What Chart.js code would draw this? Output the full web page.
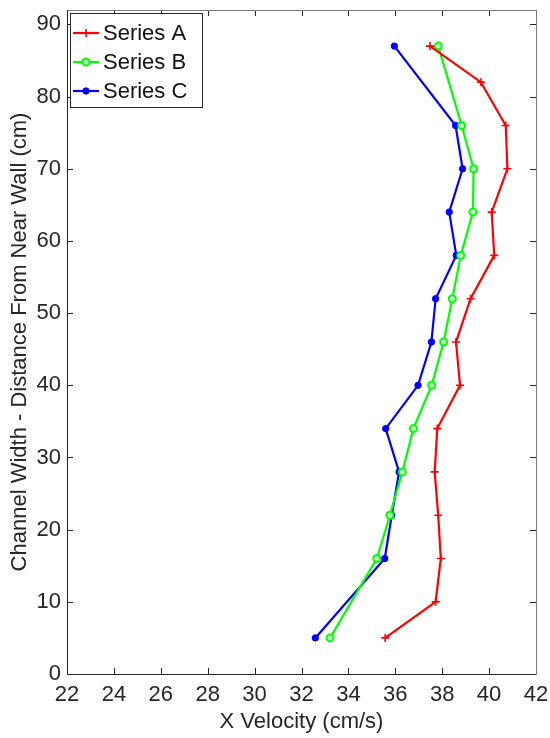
<!DOCTYPE html>
<html>
<head>
<meta charset="utf-8">
<script src="https://cdn.jsdelivr.net/npm/chart.js@4.4.0/dist/chart.umd.min.js"></script>
<style>
html,body{margin:0;padding:0;background:#fff;}
</style>
</head>
<body>
<canvas id="chart" width="550" height="738"></canvas>
<script>
// distancia a la pared (cm)
var yA = [87,82,76,70,64,58,52,46,40,34,28,22,16,10,5];
var yB = [87,76,70,64,58,52,46,40,34,28,22,16,5];
var yC = [87,76,70,64,58,52,46,40,34,28,22,16,5];
// velocidad x (cm/s)
var xA = [37.48,39.65,40.71,40.78,40.11,40.22,39.21,38.59,38.76,37.79,37.68,37.83,37.94,37.72,35.57];
var xB = [37.83,38.83,39.34,39.31,38.79,38.43,38.06,37.55,36.77,36.30,35.77,35.21,33.22];
var xC = [35.96,38.57,38.87,38.30,38.60,37.72,37.54,36.97,35.59,36.16,35.85,35.55,32.59];
var names = ['Series A','Series B','Series C'];
var colors = ['#ff0000','#00ff00','#0000ff'];
var xTicks = [22,24,26,28,30,32,34,36,38,40,42];
var yTicks = [0,10,20,30,40,50,60,70,80,90];

var axisColor = '#262626';
var fontFam = '"Liberation Sans", Arial, Helvetica, sans-serif';

function pts(xs, ys){
  return xs.map(function(v,i){ return {x:v, y:ys[i]}; });
}

var markers = [
  {pointStyle:'cross', radius:4, borderWidth:1.6, backgroundColor:colors[0]},
  {pointStyle:'circle', radius:3.5, borderWidth:2, backgroundColor:'#c8ffc8'},
  {pointStyle:'circle', radius:3.2, borderWidth:1, backgroundColor:colors[2]}
];

var datasets = [pts(xA,yA), pts(xB,yB), pts(xC,yC)].map(function(d,i){
  return {
    label: names[i],
    data: d,
    showLine: true,
    borderColor: colors[i],
    borderWidth: 2.2,
    pointStyle: markers[i].pointStyle,
    pointRadius: markers[i].radius,
    pointBorderWidth: markers[i].borderWidth,
    pointBackgroundColor: markers[i].backgroundColor,
    pointBorderColor: colors[i]
  };
});

function noPad(s){ s.paddingTop = 0; s.paddingBottom = 0; s.paddingLeft = 0; s.paddingRight = 0; }

// caja estilo matlab + ticks hacia dentro + leyenda
var boxPlugin = {
  id: 'box',
  afterDraw: function(chart){
    var ctx = chart.ctx, a = chart.chartArea;
    var sx = chart.scales.x, sy = chart.scales.y;
    var tl = 6;
    ctx.save();
    ctx.strokeStyle = axisColor;
    ctx.lineWidth = 1;
    ctx.beginPath();
    xTicks.forEach(function(v){
      var px = Math.round(sx.getPixelForValue(v)) + 0.5;
      ctx.moveTo(px, a.bottom); ctx.lineTo(px, a.bottom - tl);
      ctx.moveTo(px, a.top); ctx.lineTo(px, a.top + tl);
    });
    yTicks.forEach(function(v){
      var py = Math.round(sy.getPixelForValue(v)) + 0.5;
      ctx.moveTo(a.left, py); ctx.lineTo(a.left + tl, py);
      ctx.moveTo(a.right, py); ctx.lineTo(a.right - tl, py);
    });
    ctx.stroke();
    ctx.strokeStyle = '#7a7a7a';
    ctx.strokeRect(Math.round(a.left)+0.5, Math.round(a.top)+0.5, Math.round(a.right-a.left), Math.round(a.bottom-a.top));
    ctx.strokeStyle = axisColor;
    ctx.beginPath();
    ctx.moveTo(Math.round(a.left)+0.5, a.top); ctx.lineTo(Math.round(a.left)+0.5, a.bottom+0.5);
    ctx.lineTo(a.right, Math.round(a.bottom)+0.5);
    ctx.stroke();

    // leyenda
    var lx = a.left + 3, ly = a.top + 3, lw = 132, lh = 94;
    ctx.fillStyle = '#fff';
    ctx.fillRect(lx, ly, lw, lh);
    ctx.strokeStyle = axisColor;
    ctx.strokeRect(Math.round(lx)+0.5, Math.round(ly)+0.5, lw, lh);
    ctx.font = '22px ' + fontFam;
    ctx.textBaseline = 'middle';
    ctx.textAlign = 'left';
    names.forEach(function(n,i){
      var yy = ly + 20 + i*29;
      ctx.strokeStyle = colors[i];
      ctx.lineWidth = 2.2;
      ctx.beginPath();
      ctx.moveTo(lx + 3, yy); ctx.lineTo(lx + 29, yy);
      ctx.stroke();
      ctx.fillStyle = markers[i].backgroundColor;
      ctx.lineWidth = markers[i].borderWidth;
      Chart.helpers.drawPoint(ctx, {pointStyle: markers[i].pointStyle, radius: markers[i].radius, rotation: 0, borderWidth: markers[i].borderWidth}, lx + 16, yy);
      ctx.fillStyle = '#111';
      ctx.fillText(n, lx + 33, yy + 1);
    });
    ctx.restore();
  }
};

var ctx = document.getElementById('chart').getContext('2d');
window.grafico = new Chart(ctx, {
  type: 'scatter',
  data: { datasets: datasets },
  options: {
    responsive: false,
    animation: false,
    layout: { padding: { top: 10, right: 14, left: 0, bottom: 0 } },
    plugins: { legend: { display: false }, tooltip: { enabled: false } },
    scales: {
      x: {
        min: 22, max: 42,
        afterBuildTicks: function(s){ s.ticks = xTicks.map(function(v){ return {value:v}; }); },
        afterFit: function(s){ s.height = 64; noPad(s); },
        grid: { display: false, drawTicks: false },
        border: { display: false },
        ticks: { padding: 8, color: axisColor, maxRotation: 0, font: { size: 22, family: fontFam } },
        title: { display: true, text: 'X Velocity (cm/s)', color: axisColor, padding: { top: 0, bottom: 3 }, font: { size: 22, family: fontFam } }
      },
      y: {
        min: 0, max: 92,
        afterBuildTicks: function(s){ s.ticks = yTicks.map(function(v){ return {value:v}; }); },
        afterFit: function(s){ s.width = 67; noPad(s); },
        grid: { display: false, drawTicks: false },
        border: { display: false },
        ticks: { padding: 6, color: axisColor, font: { size: 22, family: fontFam } },
        title: { display: true, text: 'Channel Width - Distance From Near Wall (cm)', color: axisColor, padding: { top: 7, bottom: 0 }, font: { size: 22, family: fontFam } }
      }
    }
  },
  plugins: [boxPlugin]
});
</script>
</body>
</html>
